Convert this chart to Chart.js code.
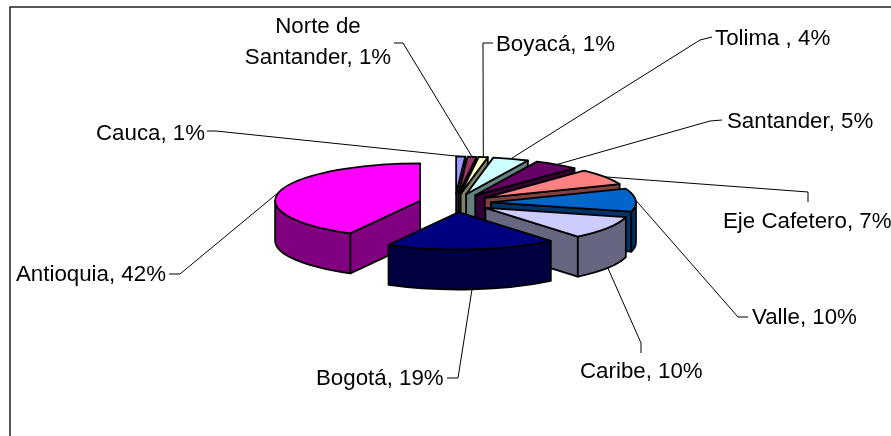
<!DOCTYPE html>
<html>
<head>
<meta charset="utf-8">
<style>
html,body{margin:0;padding:0;background:#fff}
#wrap{position:relative;width:891px;height:436px}
canvas{display:block}
</style>
<script src="https://cdn.jsdelivr.net/npm/chart.js@4/dist/chart.umd.min.js"></script>
</head>
<body>
<div id="wrap"><canvas id="c" width="891" height="436"></canvas></div>
<script>
const categories = ['Cauca','Norte de\nSantander','Boyacá','Tolima ','Santander','Eje Cafetero','Valle','Caribe','Bogotá','Antioquia'];
const shares = [1,1,1,4,5,7,10,10,19,42];
const topColors = ['#9999FF','#993366','#FFFFCC','#CCFFFF','#660066','#FF8080','#0066CC','#CCCCFF','#000080','#FF00FF'];
const sideColors = ['#4D4D80','#4D1A33','#808066','#668080','#330033','#804040','#003366','#666680','#000040','#800080'];

// label placement: text x (left edge), text y (centre of the first line), line end, elbow
const labelLayout = [
  {x:96,  y:133, align:'left',   end:[207,131], elbow:[216,131]},
  {x:318, y:26,  align:'center', end:[394,43],  elbow:[403,43]},
  {x:496, y:44,  align:'left',   end:[493,43],  elbow:[483,43]},
  {x:715, y:38,  align:'left',   end:[712,37],  elbow:[700,40]},
  {x:727, y:121, align:'left',   end:[722,120], elbow:[710,121]},
  {x:723, y:221, align:'left',   end:[808,202], elbow:[808,192]},
  {x:752, y:317, align:'left',   end:[748,317], elbow:[738,317]},
  {x:580, y:371, align:'left',   end:[641,353], elbow:[641,343]},
  {x:316, y:378, align:'left',   end:[447,378], elbow:[458,378]},
  {x:16,  y:274, align:'left',   end:[169,274], elbow:[180,274]}
];
const TILT = 0.257, DEPTH = 40, EXPLODE = 36, RADIUS = 145;

const pie3d = {
  id:'pie3d',
  beforeDatasetDraw(chart, args){
    const ctx = chart.ctx;
    const arcs = chart.getDatasetMeta(args.index).data;
    const items = arcs.map((el,i)=>{
      const mid = (el.startAngle+el.endAngle)/2;
      const off = el.options.offset;
      return {el,i,mid,
        ox: el.x+Math.cos(mid)*off,
        oy: el.y+Math.sin(mid)*off*TILT};
    });
    items.sort((a,b)=>Math.sin(a.mid)-Math.sin(b.mid));
    ctx.save();
    ctx.lineWidth = 1.8;
    ctx.lineJoin = 'round';
    ctx.strokeStyle = '#000';
    for(const it of items){
      const {el,i,ox,oy} = it;
      const R = el.outerRadius, a0 = el.startAngle, a1 = el.endAngle;
      const px = t=>ox+Math.cos(t)*R, py = t=>oy+Math.sin(t)*R*TILT;
      ctx.fillStyle = sideColors[i];
      const wall = t=>{
        ctx.beginPath();
        ctx.moveTo(ox,oy);ctx.lineTo(px(t),py(t));
        ctx.lineTo(px(t),py(t)+DEPTH);ctx.lineTo(ox,oy+DEPTH);
        ctx.closePath();ctx.fill();ctx.stroke();
      };
      if(Math.cos(a0)<0) wall(a0);
      if(Math.cos(a1)>0) wall(a1);
      // rim: the part of the arc on the near half of the ellipse
      const ranges = [[0,Math.PI],[2*Math.PI,3*Math.PI]];
      for(const [lo,hi] of ranges){
        const s = Math.max(a0,lo), e = Math.min(a1,hi);
        if(e>s){
          ctx.beginPath();
          ctx.ellipse(ox,oy,R,R*TILT,0,s,e);
          ctx.ellipse(ox,oy+DEPTH,R,R*TILT,0,e,s,true);
          ctx.closePath();ctx.fill();ctx.stroke();
        }
      }
      ctx.fillStyle = el.options.backgroundColor;
      ctx.beginPath();
      ctx.moveTo(ox,oy);
      ctx.ellipse(ox,oy,R,R*TILT,0,a0,a1);
      ctx.closePath();ctx.fill();ctx.stroke();
    }
    ctx.restore();
    return false;
  },
  afterDatasetsDraw(chart){
    const ctx = chart.ctx;
    const arcs = chart.getDatasetMeta(0).data;
    ctx.save();
    // frame
    ctx.strokeStyle = '#222';ctx.lineWidth = 1.5;
    ctx.strokeRect(10,7,900,460);
    // leaders
    ctx.strokeStyle = '#000';ctx.lineWidth = 1;
    arcs.forEach((el,i)=>{
      const mid = (el.startAngle+el.endAngle)/2;
      const r = el.options.offset+el.outerRadius;
      const sx = el.x+Math.cos(mid)*r;
      const sy = el.y+Math.sin(mid)*r*TILT+(Math.sin(mid)>0.1?DEPTH:0);
      const L = labelLayout[i];
      ctx.beginPath();
      ctx.moveTo(sx,sy);ctx.lineTo(L.elbow[0],L.elbow[1]);ctx.lineTo(L.end[0],L.end[1]);
      ctx.stroke();
    });
    // texts
    ctx.fillStyle = '#000';
    ctx.font = '22.3px "Liberation Sans", Arial, sans-serif';
    ctx.textBaseline = 'middle';
    categories.forEach((cat,i)=>{
      const L = labelLayout[i];
      const lines = (cat+', '+shares[i]+'%').split('\n');
      ctx.textAlign = L.align;
      lines.forEach((t,k)=>ctx.fillText(t,L.x,L.y+1+k*31));
    });
    ctx.restore();
  }
};

new Chart(document.getElementById('c'),{
  type:'pie',
  data:{labels:categories,datasets:[{data:shares,backgroundColor:topColors,offset:EXPLODE,borderWidth:0}]},
  options:{
    responsive:false,animation:false,radius:RADIUS,
    layout:{padding:{left:19,bottom:30}},
    plugins:{legend:{display:false},tooltip:{enabled:false},title:{display:false}}
  },
  plugins:[pie3d]
});
</script>
</body>
</html>
